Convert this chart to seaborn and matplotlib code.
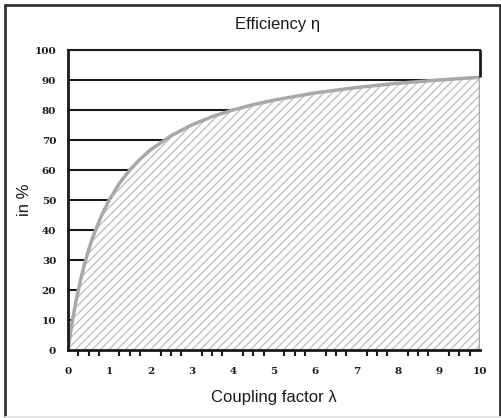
import matplotlib
matplotlib.use("Agg")
import matplotlib.pyplot as plt
from matplotlib.ticker import MultipleLocator
import seaborn as sns
import pandas as pd

# Coupling factor and corresponding efficiency (%)
coupling = [0.0, 0.05, 0.1, 0.15, 0.2, 0.3, 0.4, 0.5, 0.6, 0.8, 1.0, 1.25, 1.5, 1.75,
            2.0, 2.5, 3.0, 3.5, 4.0, 4.5, 5.0, 6.0, 7.0, 8.0, 9.0, 10.0]
efficiency = [0.0, 4.8, 9.1, 13.0, 16.7, 23.1, 28.6, 33.3, 37.5, 44.4, 50.0, 55.6, 60.0, 63.6,
              66.7, 71.4, 75.0, 77.8, 80.0, 81.8, 83.3, 85.7, 87.5, 88.9, 90.0, 90.9]

x_ticks = list(range(0, 11))
y_ticks = list(range(0, 101, 10))

df = pd.DataFrame({"lambda": coupling, "eta": efficiency})

sns.set_style("white")
plt.rcParams["hatch.color"] = "#c2c2c2"
plt.rcParams["hatch.linewidth"] = 1.0

fig = plt.figure(figsize=(5.02, 4.18), dpi=100)
ax = fig.add_axes([68 / 502, 68 / 418, 412 / 502, 300 / 418])

# horizontal grid lines sit behind the hatched area
for yv in y_ticks[1:]:
    ax.axhline(yv, color="#1a1a1a", lw=1.5, zorder=1)

ax.fill_between(df["lambda"], 0, df["eta"], facecolor="white", edgecolor="#c2c2c2",
                hatch="////", linewidth=0, zorder=2)
sns.lineplot(data=df, x="lambda", y="eta", color="#a8a8a8", lw=2.5, ax=ax, zorder=3)
ax.plot([10, 10], [0, efficiency[-1]], color="#a8a8a8", lw=2.5, zorder=3,
        solid_capstyle="butt")

ax.set_xlim(0, 10)
ax.set_ylim(0, 100)
ax.set_xticks(x_ticks)
ax.set_yticks(y_ticks)
ax.xaxis.set_minor_locator(MultipleLocator(0.25))

for side in ["left", "bottom", "top"]:
    ax.spines[side].set_color("#1a1a1a")
    ax.spines[side].set_linewidth(2)
ax.spines["top"].set_linewidth(1.5)
ax.spines["right"].set_visible(False)
ax.plot([10, 10], [efficiency[-1], 100], color="#1a1a1a", lw=2, zorder=3,
        solid_capstyle="butt", clip_on=False)
for s in ["left", "bottom"]:
    ax.spines[s].set_zorder(4)

tick_font = {"family": "DejaVu Serif", "weight": "bold", "size": 7.5}
ax.tick_params(axis="y", direction="inout", length=7, width=1.5, color="#1a1a1a", pad=5)
ax.tick_params(axis="x", which="major", direction="out", length=4, width=1.5,
               color="#1a1a1a", pad=8)
ax.tick_params(axis="x", which="minor", direction="out", length=4, width=1.5,
               color="#1a1a1a", bottom=True)
ax.set_xticklabels([str(v) for v in x_ticks], fontdict=tick_font, color="#1a1a1a")
ax.set_yticklabels([str(v) for v in y_ticks], fontdict=tick_font, color="#1a1a1a")

label_font = {"family": "Liberation Sans", "size": 12, "color": "#1a1a1a"}
ax.set_xlabel("Coupling factor λ", fontdict=label_font, labelpad=10)
ax.set_ylabel("in %", fontdict=label_font, labelpad=2)
fig.text(0.5535, 1 - 25 / 418, "Efficiency η", ha="center", va="center", **label_font)

# frame around the figure
frame_dark = "#333333"
fig.add_artist(plt.Line2D([5 / 502, 5 / 502], [1 / 418, 413 / 418], color=frame_dark, lw=2,
                          transform=fig.transFigure))
fig.add_artist(plt.Line2D([5 / 502, 500 / 502], [413 / 418, 413 / 418], color=frame_dark, lw=2,
                          transform=fig.transFigure))
fig.add_artist(plt.Line2D([500 / 502, 500 / 502], [1 / 418, 413 / 418], color=frame_dark, lw=2,
                          transform=fig.transFigure))
fig.add_artist(plt.Line2D([5 / 502, 500 / 502], [1 / 418, 1 / 418], color="#e6e6e6", lw=2,
                          transform=fig.transFigure))

fig.savefig("out.png", dpi=100)
